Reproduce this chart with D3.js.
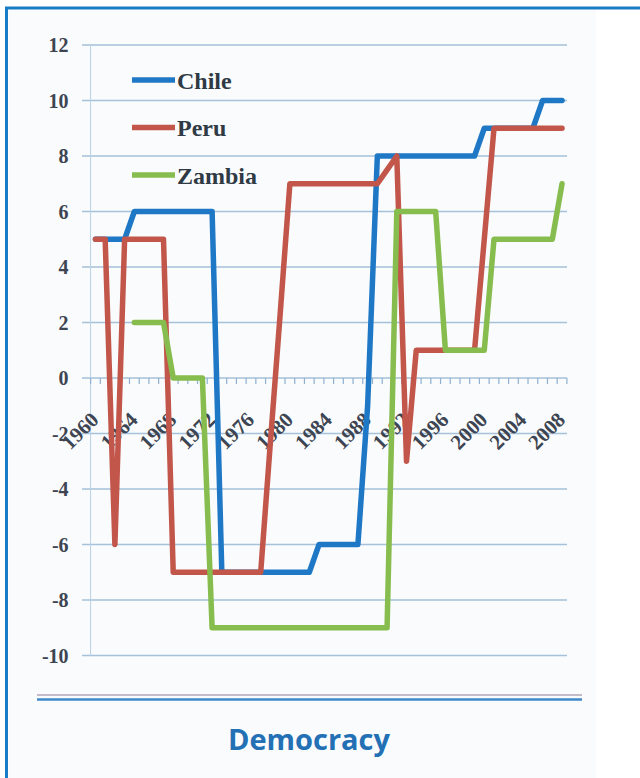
<!DOCTYPE html>
<html>
<head>
<meta charset="utf-8">
<script src="https://cdn.jsdelivr.net/npm/d3@7"></script>
<style>
  body { margin: 0; background: #fff; }
  .tick-lbl { font-family: "Liberation Serif", serif; font-weight: bold; fill: #3d4552; }
</style>
</head>
<body>
<div class="vis1"></div>
<script>
// categories: one per year
var years = [1960, 1961, 1962, 1963, 1964, 1965, 1966, 1967, 1968, 1969,
    1970, 1971, 1972, 1973, 1974, 1975, 1976, 1977, 1978, 1979,
    1980, 1981, 1982, 1983, 1984, 1985, 1986, 1987, 1988, 1989,
    1990, 1991, 1992, 1993, 1994, 1995, 1996, 1997, 1998, 1999,
    2000, 2001, 2002, 2003, 2004, 2005, 2006, 2007, 2008];

var chile = [5, 5, 5, 5, 6, 6, 6, 6, 6, 6,
    6, 6, 6, -7, -7, -7, -7, -7, -7, -7,
    -7, -7, -7, -6, -6, -6, -6, -6, -1, 8,
    8, 8, 8, 8, 8, 8, 8, 8, 8, 8,
    9, 9, 9, 9, 9, 9, 10, 10, 10];

var peru = [5, 5, -6, 5, 5, 5, 5, 5, -7, -7,
    -7, -7, -7, -7, -7, -7, -7, -7, -2.3, 2.3,
    7, 7, 7, 7, 7, 7, 7, 7, 7, 7,
    7.5, 8, -3, 1, 1, 1, 1, 1, 1, 1,
    5, 9, 9, 9, 9, 9, 9, 9, 9];

var zambia = [null, null, null, null, 2, 2, 2, 2, 0, 0,
    0, 0, -9, -9, -9, -9, -9, -9, -9, -9,
    -9, -9, -9, -9, -9, -9, -9, -9, -9, -9,
    -9, 6, 6, 6, 6, 6, 1, 1, 1, 1,
    1, 5, 5, 5, 5, 5, 5, 5, 7];

var seriesNames = ["Chile", "Peru", "Zambia"];
var seriesColors = ["#1f78c6", "#c2564a", "#86bd4e"];
var yTicks = [-10, -8, -6, -4, -2, 0, 2, 4, 6, 8, 10, 12];
var xLabelYears = [1960, 1964, 1968, 1972, 1976, 1980, 1984, 1988, 1992, 1996, 2000, 2004, 2008];

var W = 640, H = 778;

var svg = d3.select(".vis1")
    .append("svg")
    .attr("width", W)
    .attr("height", H);

// page frame: light chart image + blue border top/left
svg.append("rect").attr("x", 9).attr("y", 10).attr("width", 587).attr("height", H)
    .attr("fill", "#fafbfd");
svg.append("line").attr("x1", 5).attr("x2", W).attr("y1", 8).attr("y2", 8)
    .attr("stroke", "#1b7cc6").attr("stroke-width", 3);
svg.append("line").attr("x1", 6.5).attr("x2", 6.5).attr("y1", 7).attr("y2", H)
    .attr("stroke", "#1b7cc6").attr("stroke-width", 3);

var x = d3.scalePoint().domain(years).range([90.6, 566.9]).padding(0.5);
var band = d3.scaleBand().domain(years).range([90.6, 566.9]);
var y = d3.scaleLinear().domain([-10, 12]).range([655.5, 45]);

// horizontal grid
svg.append("g")
    .selectAll("line")
    .data(yTicks)
    .enter()
    .append("line")
    .attr("x1", 82).attr("x2", 567)
    .attr("y1", d => y(d)).attr("y2", d => y(d))
    .attr("stroke", "#a6c1da")
    .attr("stroke-width", 1.6);

// y axis line
svg.append("line")
    .attr("x1", 90.6).attr("x2", 90.6)
    .attr("y1", y(12)).attr("y2", y(-10))
    .attr("stroke", "#b9d0e4").attr("stroke-width", 1);

// small ticks below the zero line, one per year boundary
var tickXs = years.map(d => band(d)).concat([band.range()[1]]);
svg.append("g")
    .selectAll("line")
    .data(tickXs)
    .enter()
    .append("line")
    .attr("x1", d => d).attr("x2", d => d)
    .attr("y1", y(0)).attr("y2", y(0) + 6)
    .attr("stroke", "#8fb1d2").attr("stroke-width", 1.2);

// y labels (plain hyphen for negatives, like the original)
var yAxis = svg.append("g")
    .attr("transform", "translate(90.6,0)")
    .call(d3.axisLeft(y).tickValues(yTicks).tickSize(0).tickPadding(22).tickFormat(d => String(d)));
yAxis.select(".domain").remove();
yAxis.selectAll("text")
    .attr("class", "tick-lbl")
    .style("font-size", "20px")
    .attr("dy", "0.34em");

// x labels, rotated
var xAxis = svg.append("g")
    .attr("transform", "translate(0," + y(0) + ")")
    .call(d3.axisBottom(x).tickValues(xLabelYears).tickSize(0));
xAxis.select(".domain").remove();
xAxis.selectAll("text")
    .attr("class", "tick-lbl")
    .style("font-size", "21px")
    .style("text-anchor", "end")
    .attr("x", 0).attr("y", 0).attr("dy", 0)
    .attr("transform", "translate(4,43) rotate(-45)");

// series
var allSeries = [chile, peru, zambia];
var line = d3.line()
    .defined(d => d.v !== null)
    .x(d => x(d.year))
    .y(d => y(d.v));

allSeries.forEach(function (vals, i) {
    var pts = years.map((yr, j) => ({ year: yr, v: vals[j] }));
    svg.append("path")
        .datum(pts)
        .attr("d", line)
        .style("fill", "none")
        .style("stroke", seriesColors[i])
        .style("stroke-width", 5.5)
        .style("stroke-linejoin", "round")
        .style("stroke-linecap", "round");
});

// legend
var legend = svg.append("g").attr("transform", "translate(132,80)");
seriesNames.forEach(function (name, i) {
    var g = legend.append("g").attr("transform", "translate(0," + (i * 47.5) + ")");
    g.append("line")
        .attr("x1", 0).attr("x2", 43)
        .attr("stroke", seriesColors[i])
        .attr("stroke-width", 5.5);
    g.append("text")
        .attr("x", 45).attr("y", 0).attr("dy", "0.36em")
        .attr("class", "tick-lbl")
        .style("font-size", "24px")
        .style("fill", "#2f3a44")
        .text(name);
});

// double rule and caption
svg.append("line").attr("x1", 37).attr("x2", 582).attr("y1", 695).attr("y2", 695)
    .attr("stroke", "#c3bcc8").attr("stroke-width", 2);
svg.append("line").attr("x1", 37).attr("x2", 582).attr("y1", 699.5).attr("y2", 699.5)
    .attr("stroke", "#3f89cc").attr("stroke-width", 2.5);

svg.append("text")
    .attr("x", 309).attr("y", 750)
    .attr("text-anchor", "middle")
    .style("font-family", "'Open Sans', sans-serif")
    .style("font-weight", "bold")
    .style("font-size", "29px")
    .style("fill", "#2370b5")
    .text("Democracy");
</script>
</body>
</html>
